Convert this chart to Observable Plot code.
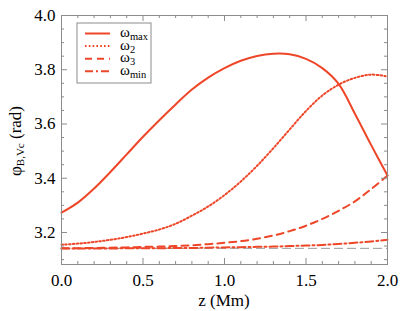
<!DOCTYPE html>
<html><head><meta charset="utf-8">
<script src="https://cdn.jsdelivr.net/npm/d3@7"></script>
<script src="https://cdn.jsdelivr.net/npm/@observablehq/plot@0.6"></script>
<style>
body{margin:0;background:#fff;font-family:Liberation Serif}
#wrap{position:relative;width:407px;height:311px;font-family:Liberation Serif}
#wrap svg.overlay{position:absolute;left:0;top:0;pointer-events:none}
.ttl{position:absolute;font-family:Liberation Serif;font-size:17px;white-space:nowrap;line-height:1;color:#000}
.ttl sub{font-size:11px;vertical-align:-3px;line-height:0}
</style>
</head><body><div id="wrap">
<div class="ttl" style="left:224px;top:300px;transform:translate(-50%,-50%)">z (Mm)</div>
<div class="ttl" style="left:15px;top:141px;transform:translate(-50%,-50%) rotate(-90deg)">φ<sub>B,Vc</sub> (rad)</div>
</div>
<script>
// ---- data ----
const z    = [0.0,0.1,0.2,0.3,0.4,0.5,0.6,0.7,0.8,0.9,1.0,1.1,1.2,1.3,1.4,1.5,1.6,1.7,1.8,1.9,2.0];
const wMax = [3.273,3.310,3.362,3.423,3.488,3.553,3.614,3.672,3.727,3.771,3.806,3.833,3.851,3.859,3.857,3.840,3.806,3.748,3.638,3.522,3.410];
const w2   = [3.155,3.159,3.165,3.173,3.183,3.196,3.211,3.232,3.262,3.296,3.338,3.388,3.446,3.511,3.580,3.648,3.705,3.745,3.770,3.782,3.775];
const w3   = [3.142,3.142,3.143,3.144,3.145,3.147,3.148,3.150,3.153,3.157,3.162,3.168,3.177,3.189,3.205,3.225,3.250,3.280,3.315,3.360,3.410];
const wMin = [3.141,3.141,3.141,3.141,3.142,3.142,3.142,3.143,3.143,3.144,3.145,3.146,3.147,3.148,3.150,3.152,3.154,3.158,3.162,3.167,3.173];
const seriesNames = ["max","2","3","min"];
const xTickLabels = [0.0,0.5,1.0,1.5,2.0];
const yTickLabels = [3.2,3.4,3.6,3.8,4.0];
const xMinor = [0.1,0.2,0.3,0.4,0.6,0.7,0.8,0.9,1.1,1.2,1.3,1.4,1.6,1.7,1.8,1.9];
const yMinor = [3.1,3.15,3.25,3.3,3.35,3.45,3.5,3.55,3.65,3.7,3.75,3.85,3.9,3.95];
const piLine = [Math.PI];

// ---- layout / style ----
const W = 407, H = 311, mL = 61, mR = 20, mT = 15, mB = 47;
const innerW = W - mL - mR, innerH = H - mT - mB;
const red = "#ee4628", gray = "#8c8c8c";
const FONT = "Liberation Serif";
const dashes = ["none", "1.6,2.2", "7,5", "8,3,2,3"];
const rows = z.map((zz, i) => ({z: zz, max: wMax[i], w2: w2[i], w3: w3[i], min: wMin[i]}));
const keys = ["max","w2","w3","min"];

const lineMarks = keys.map((k, j) => Plot.line(rows, {
  x: "z", y: k, stroke: red, strokeWidth: 2, curve: "catmull-rom",
  strokeDasharray: dashes[j] === "none" ? null : dashes[j]
}));

const tickMarks = (vals, len, side) => side === "bottom" ? Plot.ruleX(vals, {stroke: gray, insetTop: innerH - len})
  : side === "top" ? Plot.ruleX(vals, {stroke: gray, insetBottom: innerH - len})
  : side === "left" ? Plot.ruleY(vals, {stroke: gray, insetRight: innerW - len})
  : Plot.ruleY(vals, {stroke: gray, insetLeft: innerW - len});

const chart = Plot.plot({
  width: W, height: H,
  marginLeft: mL, marginRight: mR, marginTop: mT, marginBottom: mB,
  style: {fontFamily: FONT, fontSize: "17px", color: "#000", background: "#fff"},
  x: {domain: [0, 2]},
  y: {domain: [3.082, 4.0]},
  marks: [
    Plot.ruleY(piLine, {stroke: "#999", strokeWidth: 1, strokeDasharray: "9,4"}),
    ...lineMarks,
    tickMarks(xTickLabels, 6, "bottom"), tickMarks(xMinor, 3, "bottom"),
    tickMarks(xTickLabels, 6, "top"), tickMarks(xMinor, 3, "top"),
    tickMarks(yTickLabels, 6, "left"), tickMarks(yMinor, 3, "left"),
    tickMarks(yTickLabels, 6, "right"), tickMarks(yMinor, 3, "right"),
    Plot.frame({stroke: gray, strokeWidth: 1}),
    Plot.axisX(xTickLabels, {tickSize: 0, tickPadding: 9, tickFormat: d3.format(".1f"), label: null, fontSize: 17}),
    Plot.axisY(yTickLabels, {tickSize: 0, tickPadding: 6, tickFormat: d3.format(".1f"), label: null, fontSize: 17})
  ]
});
const wrap = document.getElementById("wrap");
wrap.insertBefore(chart, wrap.firstChild);

// ---- overlay: legend ----
const ns = "http://www.w3.org/2000/svg";
const ov = document.createElementNS(ns, "svg");
ov.setAttribute("class", "overlay");
ov.setAttribute("width", W); ov.setAttribute("height", H);
let html = "";
const lx = 77, ly = 23, lw = 74, lh = 60;
html += `<rect x="${lx}" y="${ly}" width="${lw}" height="${lh}" fill="#fff" stroke="${gray}" stroke-width="1"/>`;
seriesNames.forEach((n, j) => {
  const yy = 33.5 + j * 12.6;
  html += `<line x1="85" x2="110" y1="${yy}" y2="${yy}" stroke="${red}" stroke-width="2" ${dashes[j] === "none" ? "" : `stroke-dasharray="${dashes[j]}"`}/>`;
  html += `<text x="120" y="${yy + 3.5}" font-family="${FONT}" font-size="15">ω<tspan font-size="10.5" dy="3">${n}</tspan></text>`;
});
ov.innerHTML = html;
wrap.appendChild(ov);
</script>
</body></html>
